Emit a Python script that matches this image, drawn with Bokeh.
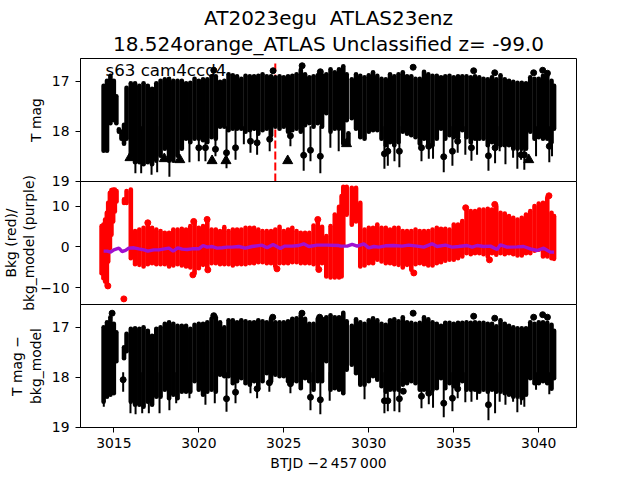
from bokeh.plotting import figure
from bokeh.layouts import column
from bokeh.models import Range1d, Label, FixedTicker, Title
from bokeh.embed import file_html
from bokeh.resources import INLINE

TITLE_LINE_1 = "AT2023egu \u00a0ATLAS23enz"
TITLE_LINE_2 = "18.524orange_ATLAS Unclassified z= -99.0"
SECTOR_LABEL = "s63 cam4ccd4"
X_LABEL = "BTJD \u22122\u2009457\u2009000"
Y1_LABEL = "T mag"
Y2_LABEL_A = "Bkg (red)/"
Y2_LABEL_B = "bkg_model (purple)"
Y3_LABEL_A = "T mag \u2212"
Y3_LABEL_B = "bkg_model"
X_TICKS = [3015, 3020, 3025, 3030, 3035, 3040]
MAG_TICKS = [17, 18, 19]
BKG_TICKS = [-10, 0, 10]
EVENT_TIME = 3024.5

# column times shared by the three panels (days)
T_B = [3015.75, 3016.0, 3016.25, 3016.5, 3016.75, 3017.0, 3017.25, 3017.5, 3017.75, 3018.0,
       3018.25, 3018.5, 3018.75, 3019.0, 3019.25, 3019.5, 3019.75, 3020.0, 3020.25, 3020.5,
       3020.75, 3021.0, 3021.25, 3021.5, 3021.75, 3022.0, 3022.25, 3022.5, 3022.75, 3023.0,
       3023.25, 3023.5, 3023.75, 3024.0, 3024.25, 3024.5, 3024.75, 3025.0, 3025.25, 3025.5,
       3025.75, 3026.0, 3026.25, 3026.5, 3026.75, 3027.0, 3027.25, 3027.5, 3027.75, 3028.0, 3028.25]
T_C = [3029.0, 3029.25, 3029.5, 3029.75, 3030.0, 3030.25, 3030.5, 3030.75, 3031.0, 3031.25,
       3031.5, 3031.75, 3032.0, 3032.25, 3032.5, 3032.75, 3033.0, 3033.25, 3033.5, 3033.75,
       3034.0, 3034.25, 3034.5, 3034.75, 3035.0, 3035.25, 3035.5, 3035.75, 3036.0, 3036.25,
       3036.5, 3036.75, 3037.0, 3037.25, 3037.5, 3037.75, 3038.0, 3038.25, 3038.5, 3038.75,
       3039.0, 3039.25, 3039.5, 3039.75, 3040.0, 3040.25, 3040.5, 3040.75, 3040.9]

# --- panel 1: T mag
M_T_A = [3014.4, 3014.6, 3014.8, 3015.0, 3015.15, 3015.3, 3015.45, 3015.6]
M_TOP_A = [17.09, 16.99, 16.89, 16.99, 17.30, 17.96, 18.01, 17.87]
M_LOW_A = [18.39, 18.39, 17.84, 17.78, 17.84, 18.01, 18.15, 18.25]
M_TOP_B = [17.13, 17.04, 17.04, 17.09, 17.04, 17.09, 17.15, 17.04, 16.99, 16.96,
           16.95, 16.99, 16.99, 16.99, 17.04, 17.03, 16.95, 16.99, 16.96, 16.96,
           16.90, 16.90, 17.01, 16.99, 16.86, 16.88, 16.90, 16.95, 16.89, 16.90,
           16.90, 16.89, 16.86, 16.90, 16.90, 16.92, 16.90, 16.92, 16.90, 16.89,
           16.86, 16.77, 16.86, 16.92, 16.90, 16.88, 16.88, 16.86, 16.76, 16.82, 16.76]
M_LOW_B = [18.15, 18.49, 18.62, 18.62, 18.66, 18.62, 18.66, 18.59, 18.49, 18.35,
           18.59, 18.59, 18.49, 18.35, 18.15, 18.22, 18.15, 18.15, 18.18, 18.22,
           18.12, 18.15, 17.91, 17.91, 17.98, 17.95, 17.95, 17.95, 18.01, 17.98,
           17.95, 18.05, 17.98, 17.95, 18.08, 17.91, 17.95, 17.91, 18.01, 17.98,
           17.95, 18.01, 17.88, 17.84, 17.91, 17.84, 17.91, 17.64, 18.01, 17.95, 17.95]
M_T_M = [3028.5, 3028.7, 3028.8]
M_TOP_M = [16.70, 16.86, 18.04]
M_LOW_M = [18.25, 17.78, 18.25]
M_TOP_C = [16.96, 16.86, 16.89, 16.92, 16.88, 16.82, 16.89, 16.95, 16.96, 16.86,
           16.90, 16.86, 16.82, 16.90, 16.90, 16.95, 16.95, 16.81, 16.86, 16.89,
           16.89, 16.92, 16.90, 16.89, 16.92, 16.90, 16.90, 16.90, 16.92, 16.90,
           16.92, 16.95, 16.96, 16.92, 16.96, 16.88, 16.96, 16.99, 17.01, 17.03,
           17.03, 17.04, 16.92, 16.95, 16.95, 16.89, 16.90, 16.99, 17.09]
M_LOW_C = [17.74, 17.95, 18.12, 18.15, 18.01, 17.98, 17.98, 18.15, 18.28, 18.22,
           18.28, 18.22, 18.01, 18.05, 18.08, 18.12, 18.25, 18.15, 18.28, 18.28,
           18.15, 17.95, 18.15, 18.08, 18.12, 18.12, 17.98, 18.12, 18.22, 18.15,
           18.15, 18.15, 18.28, 18.22, 18.28, 18.28, 18.28, 18.28, 18.35, 18.35,
           18.35, 18.35, 18.01, 18.15, 18.12, 18.15, 18.15, 18.22, 17.95]
M_SPIKE_T = [3016.27, 3016.61, 3017.22, 3017.55, 3018.27, 3019.45, 3020.0, 3020.39, 3020.98, 3021.63,
             3022.16, 3022.65, 3023.04, 3023.43, 3024.17, 3025.39, 3026.17, 3026.57, 3027.15, 3027.74,
             3028.23, 3030.92, 3031.12, 3031.51, 3031.80, 3033.10, 3033.53, 3033.78, 3034.41, 3034.92,
             3035.23, 3035.68, 3036.04, 3036.37, 3037.04, 3037.43, 3037.70, 3038.04, 3038.49, 3038.74,
             3038.96, 3039.15, 3039.84, 3040.62, 3040.78]
M_SPIKE_LOW = [18.84, 18.84, 18.87, 18.82, 18.91, 18.62, 18.60, 18.60, 18.50, 18.74,
               18.57, 18.26, 18.43, 18.47, 18.40, 18.30, 18.79, 18.60, 18.84, 18.33,
               18.40, 18.75, 18.69, 18.60, 18.72, 18.60, 18.55, 18.55, 18.82, 18.69,
               18.43, 18.47, 18.59, 18.47, 18.79, 18.64, 18.40, 18.66, 18.53, 18.75,
               18.57, 18.77, 18.50, 18.62, 18.50]
M_DOT_T = [3020.0, 3020.39, 3020.98, 3021.63, 3022.16, 3023.04, 3023.43, 3024.17, 3025.39, 3026.17,
           3026.57, 3027.15, 3030.92, 3031.12, 3031.80, 3033.10, 3033.53, 3034.41, 3034.92, 3035.23,
           3036.04, 3037.04, 3037.43, 3038.96, 3039.15, 3040.62,
           3032.61, 3036.17, 3037.41, 3039.70, 3040.23, 3040.51, 3020.88, 3024.37, 3026.08, 3027.15]
M_DOT_MAG = [18.33, 18.33, 18.36, 18.43, 18.33, 18.20, 18.23, 18.16, 18.09, 18.48,
             18.38, 18.50, 18.45, 18.40, 18.40, 18.33, 18.30, 18.51, 18.40, 18.20,
             18.33, 18.49, 18.33, 18.47, 18.47, 18.30,
             16.72, 16.79, 16.83, 16.83, 16.78, 16.84, 16.78, 16.79, 16.69, 16.81]
LIMIT_T = [3015.95, 3017.97, 3018.88, 3020.78, 3021.6, 3025.23, 3039.41, 3028.69]
LIMIT_MAG = [18.53, 18.55, 18.57, 18.59, 18.59, 18.59, 18.57, 18.25]

# --- panel 2: background
B_T_A = [3014.28, 3014.39, 3014.49, 3014.59, 3014.67, 3014.77, 3014.86, 3014.96, 3015.06, 3015.16, 3015.6]
B_TOP_A = [5.14, 5.55, 6.79, 8.43, 10.90, 13.37, 14.03, 14.19, 14.19, 13.78, 11.73]
B_LOW_A = [-6.46, -7.69, -8.51, -9.34, -3.58, -0.28, 3.01, 6.30, 8.77, 11.24, 10.83]
B_TOP_B = [13.78, 14.19, 3.91, 4.32, 4.73, 5.80, 4.73, 4.32, 3.91, 3.49,
           3.49, 4.32, 4.32, 4.48, 4.32, 5.14, 6.13, 4.73, 5.14, 6.62,
           4.32, 4.32, 3.91, 4.89, 3.91, 4.32, 4.32, 4.32, 4.73, 4.73,
           4.73, 4.32, 3.91, 3.91, 3.91, 4.32, 4.98, 3.91, 4.32, 4.73,
           3.91, 3.49, 3.49, 3.49, 5.31, 6.62, 4.98, 2.67, 5.14, 8.02, 9.91]
B_LOW_B = [10.83, -2.75, -4.23, -4.40, -4.81, -4.23, -3.99, -4.23, -4.23, -4.23,
           -4.81, -4.56, -4.23, -4.56, -4.81, -5.06, -6.46, -5.22, -4.40, -5.22,
           -3.99, -3.99, -4.23, -4.23, -4.23, -4.56, -4.23, -4.23, -4.23, -3.99,
           -3.99, -3.74, -3.74, -3.99, -3.99, -4.81, -3.99, -3.99, -3.99, -3.74,
           -3.74, -3.99, -3.99, -3.99, -4.23, -5.06, -3.99, -7.28, -7.53, -7.53, -7.53]
B_T_M = [3028.4, 3028.5, 3028.7]
B_TOP_M = [12.55, 14.85, 14.85]
B_LOW_M = [-7.28, 0.54, 7.95]
B_TOP_C = [14.61, 14.61, 10.90, 4.32, 4.73, 4.73, 5.55, 4.73, 4.73, 4.32,
           4.73, 4.73, 3.91, 3.91, 3.91, 4.32, 3.91, 3.91, 3.91, 4.32,
           4.73, 4.48, 4.48, 4.32, 5.55, 5.55, 6.38, 9.26, 8.84, 8.84,
           9.26, 9.26, 9.42, 9.26, 10.08, 8.43, 8.27, 7.61, 7.20, 6.79,
           7.20, 8.02, 8.84, 10.08, 10.74, 10.90, 12.14, 8.43, 7.61]
B_LOW_C = [5.48, 6.30, -4.81, -4.56, -3.99, -3.99, -3.16, -3.58, -3.99, -3.99,
           -4.23, -4.40, -5.06, -4.40, -5.63, -4.23, -3.99, -4.23, -4.56, -4.56,
           -3.99, -3.74, -3.41, -3.16, -3.16, -2.75, -2.34, -1.52, -1.76, -1.52,
           -1.52, -1.76, -2.34, -1.52, -1.93, -1.52, -1.76, -1.52, -1.76, -2.09,
           -2.09, -1.52, -1.52, -0.94, -0.69, -2.34, -2.34, -2.75, -2.92]
B_DOT_T = [3015.59, 3037.1, 3032.65, 3040.6, 3037.41, 3035.7, 3019.65, 3020.53, 3024.6, 3027.06,
           3017.0, 3020.49, 3019.7, 3027.0, 3014.65]
B_DOT_V = [-12.8, -3.17, -6.4, 12.63, 10.5, 9.67, -6.87, -5.64, -5.39, -5.55,
           5.97, 6.8, 6.3, 6.79, -9.6]
MODEL_T = [3014.4, 3014.61, 3014.81, 3015.0, 3015.3, 3015.49, 3015.69, 3015.88, 3016.18, 3016.47,
           3016.77, 3017.0, 3017.35, 3017.65, 3017.98, 3018.24, 3018.49, 3018.76, 3019.02, 3019.31,
           3019.61, 3020.0, 3020.25, 3020.49, 3020.78, 3021.08, 3021.37, 3021.67, 3021.96, 3022.35,
           3022.74, 3023.13, 3023.72, 3024.02, 3024.37, 3024.8, 3025.04, 3025.49, 3025.88, 3026.17,
           3026.47, 3026.96, 3027.55, 3028.23, 3028.34, 3028.73, 3029.02, 3029.32, 3029.71, 3030.0,
           3030.3, 3030.59, 3030.98, 3031.47, 3031.96, 3032.35, 3032.84, 3033.23, 3033.72, 3034.02,
           3034.51, 3034.9, 3035.29, 3035.78, 3036.08, 3036.37, 3036.76, 3037.15, 3037.55, 3037.74,
           3038.14, 3038.72, 3039.11, 3039.51, 3039.9, 3040.29, 3040.68, 3040.9]
MODEL_V = [-1.03, -1.03, -1.27, -0.70, -0.29, -1.11, -0.86, -0.29, -0.20, -0.45,
           -0.70, -1.03, -0.70, -0.70, -0.45, -0.29, -1.03, -0.20, -0.53, -0.62,
           -0.45, -0.45, 0.37, -0.04, 0.12, -0.29, -0.20, -0.04, -0.04, 0.12,
           -0.29, 0.12, 0.45, -0.20, 0.62, -0.37, 0.21, 0.21, 0.37, 0.78,
           0.12, 0.45, 0.45, 0.37, 0.21, 0.21, 0.62, 0.21, 0.78, -0.20,
           0.12, -0.04, 0.29, 0.37, 0.21, 0.45, 0.21, -0.04, 0.78, 0.12,
           0.45, -0.04, 0.12, 0.37, -0.04, 0.37, 0.12, 0.21, -0.62, 0.54,
           -0.04, 0.04, 0.12, -0.45, -0.86, -0.29, -1.27, -1.27]

# --- panel 3: T mag minus model
D_T_A = [3014.4, 3014.6, 3014.8, 3015.0, 3015.15, 3015.6]
D_TOP_A = [17.00, 16.90, 16.80, 16.93, 17.10, 17.40]
D_LOW_A = [18.49, 18.39, 18.35, 18.32, 17.68, 17.62]
D_TOP_B = [17.13, 17.03, 17.02, 17.03, 17.0, 17.07, 17.17, 17.03, 17.0, 16.93,
           16.90, 16.93, 16.97, 16.97, 16.97, 17.03, 16.95, 16.93, 16.93, 16.90,
           16.83, 16.80, 16.90, 17.0, 16.86, 16.86, 16.90, 16.86, 16.88, 16.90,
           16.90, 16.86, 16.88, 16.90, 16.83, 16.90, 16.90, 16.90, 16.88, 16.83,
           16.82, 16.76, 16.83, 16.93, 16.93, 16.83, 16.83, 16.80, 16.76, 16.80, 16.80]
D_LOW_B = [17.48, 18.49, 18.55, 18.55, 18.59, 18.49, 18.55, 18.39, 18.39, 18.25,
           18.42, 18.35, 18.42, 18.29, 18.29, 18.29, 18.08, 18.25, 18.35, 18.29,
           18.25, 18.29, 17.95, 17.98, 17.98, 18.12, 18.08, 18.02, 18.12, 18.15,
           18.08, 18.23, 18.08, 17.92, 18.08, 17.95, 17.98, 17.98, 18.08, 18.08,
           18.08, 18.22, 18.02, 18.08, 18.25, 18.08, 18.08, 17.68, 18.25, 18.22, 18.25]
D_T_M = [3028.5, 3028.7]
D_TOP_M = [16.71, 16.88]
D_LOW_M = [18.32, 17.85]
D_TOP_C = [16.97, 16.84, 16.90, 16.93, 16.86, 16.82, 16.86, 16.93, 16.95, 16.86,
           16.84, 16.88, 16.80, 16.90, 16.91, 16.93, 16.91, 16.80, 16.84, 16.90,
           16.93, 16.97, 16.91, 16.91, 16.93, 16.91, 16.91, 16.90, 16.91, 16.90,
           16.91, 16.91, 16.93, 16.93, 16.98, 16.86, 16.93, 16.97, 17.0, 17.02,
           17.02, 17.02, 16.90, 16.93, 16.90, 16.90, 16.91, 16.95, 17.07]
D_LOW_C = [17.75, 17.92, 18.15, 18.15, 18.08, 17.98, 18.05, 18.18, 18.29, 18.25,
           18.25, 18.25, 18.15, 18.12, 18.08, 18.12, 18.25, 18.25, 18.29, 18.25,
           18.22, 18.02, 18.22, 18.12, 18.18, 18.15, 18.08, 18.25, 18.25, 18.25,
           18.29, 18.25, 18.29, 18.25, 18.29, 18.29, 18.32, 18.35, 18.39, 18.39,
           18.42, 18.35, 18.02, 18.12, 18.12, 18.08, 18.12, 18.23, 18.02]
D_SPIKE_T = [3014.41, 3015.55, 3015.98, 3016.28, 3016.67, 3017.06, 3017.69, 3018.27, 3018.67, 3019.45,
             3020.39, 3020.94, 3021.63, 3022.16, 3023.04, 3023.43, 3024.15, 3025.39, 3026.57, 3027.15,
             3027.7, 3029.75, 3030.92, 3031.12, 3031.51, 3031.80, 3033.10, 3033.53, 3033.78, 3034.41,
             3034.92, 3035.23, 3035.68, 3036.04, 3036.37, 3037.04, 3037.43, 3037.70, 3038.04, 3038.49,
             3038.74, 3038.96, 3039.15, 3039.84, 3040.62]
D_SPIKE_LOW = [18.59, 18.29, 18.72, 18.74, 18.72, 18.72, 18.72, 18.66, 18.52, 18.42,
               18.55, 18.52, 18.69, 18.52, 18.32, 18.42, 18.29, 18.32, 18.66, 18.74,
               18.47, 18.44, 18.72, 18.68, 18.68, 18.70, 18.62, 18.54, 18.61, 18.80,
               18.68, 18.42, 18.50, 18.49, 18.45, 18.86, 18.72, 18.49, 18.55, 18.49,
               18.70, 18.55, 18.59, 18.25, 18.34]
D_DOT_T = [3015.55, 3021.63, 3022.16, 3023.43, 3024.15, 3025.39, 3026.57, 3027.15, 3030.92, 3031.12,
           3031.80, 3032.03, 3033.10, 3033.53, 3034.41, 3034.92, 3035.23, 3037.04,
           3032.61, 3036.17, 3037.41, 3039.70, 3040.23, 3040.51, 3024.35, 3027.11, 3020.88, 3026.07, 3014.9]
D_DOT_MAG = [18.05, 18.43, 18.30, 18.23, 18.11, 18.13, 18.40, 18.45, 18.47, 18.47,
             18.43, 18.28, 18.38, 18.32, 18.52, 18.42, 18.23, 18.55,
             16.72, 16.78, 16.82, 16.80, 16.75, 16.80, 16.80, 16.80, 16.77, 16.72, 16.72]

FONT = "DejaVu Sans"
TICK_PX = "13.9px"
X_RANGE = (3013.04, 3042.22)
Y1_RANGE = (19.005, 16.545)
Y2_RANGE = (-14.18, 16.15)
Y3_RANGE = (19.005, 16.546)


def make_panel(height, y_range, ticks, label, standoff, top=0, bottom=0, margin=0):
    p = figure(width=640, height=height, output_backend="svg", toolbar_location=None, title=None,
               x_range=Range1d(*X_RANGE), y_range=Range1d(*y_range),
               min_border_left=80, min_border_right=64, min_border_top=top, min_border_bottom=bottom,
               margin=(margin, 0, 0, 0),
               background_fill_color="white", border_fill_color=None)
    p.grid.visible = False
    p.outline_line_color = "black"
    p.outline_line_width = 1
    p.outline_line_alpha = 1
    p.xaxis.visible = False
    p.xaxis.ticker = FixedTicker(ticks=X_TICKS)
    p.yaxis.ticker = FixedTicker(ticks=ticks)
    p.yaxis.minor_tick_line_color = None
    p.yaxis.major_tick_in = 0
    p.yaxis.major_tick_out = 5
    p.yaxis.major_label_standoff = 6
    p.yaxis.major_label_text_font = FONT
    p.yaxis.major_label_text_font_size = TICK_PX
    p.yaxis.major_label_text_color = "black"
    p.yaxis.axis_label = label
    p.yaxis.axis_label_standoff = standoff
    p.yaxis.axis_label_text_font = FONT
    p.yaxis.axis_label_text_font_size = TICK_PX
    p.yaxis.axis_label_text_font_style = "normal"
    p.yaxis.axis_label_text_color = "black"
    return p


def columns(p, t, low, top, color, width=4.6):
    p.segment(x0=t, y0=low, x1=t, y1=top, line_color=color, line_width=width, line_cap="round")


def side_title(p, text, standoff=0):
    p.add_layout(Title(text=text, align="center", text_font=FONT, text_font_size=TICK_PX,
                       text_font_style="normal", text_color="black", standoff=standoff), "left")


def top_title(p, text, standoff=0):
    p.add_layout(Title(text=text, align="center", text_font=FONT, text_font_size="20px",
                       text_font_style="normal", text_color="black", standoff=standoff), "above")


# panel 1
p1 = make_panel(189, Y1_RANGE, MAG_TICKS, Y1_LABEL, 5, top=58, bottom=8)
top_title(p1, TITLE_LINE_2, 5)
top_title(p1, TITLE_LINE_1, -4)
p1.segment(x0=[EVENT_TIME], y0=[19.005], x1=[EVENT_TIME], y1=[16.64],
           line_color="red", line_width=2, line_dash="8 3")
columns(p1, M_T_A + T_B + M_T_M + T_C, M_LOW_A + M_LOW_B + M_LOW_M + M_LOW_C,
        M_TOP_A + M_TOP_B + M_TOP_M + M_TOP_C, "black")
p1.segment(x0=M_SPIKE_T, y0=[17.9] * len(M_SPIKE_T), x1=M_SPIKE_T, y1=M_SPIKE_LOW,
           line_color="black", line_width=2)
p1.scatter(M_DOT_T, M_DOT_MAG, marker="circle", size=6, color="black")
p1.scatter(LIMIT_T, LIMIT_MAG, marker="triangle", size=10, color="black")
p1.add_layout(Label(x=3014.51, y=16.79, text=SECTOR_LABEL, text_font=FONT,
                    text_font_size="16.67px", text_color="black", text_baseline="alphabetic"))

# panel 2 (its canvas starts 16 px above the bottom of panel 1's canvas)
p2 = make_panel(139, Y2_RANGE, BKG_TICKS, Y2_LABEL_B, 0, top=8, bottom=8, margin=-16)
p2.yaxis.major_label_overrides = {-10: "\u221210", 0: "0", 10: "10"}
side_title(p2, Y2_LABEL_A)
columns(p2, B_T_A + T_B + B_T_M + T_C, B_LOW_A + B_LOW_B + B_LOW_M + B_LOW_C,
        B_TOP_A + B_TOP_B + B_TOP_M + B_TOP_C, "red")
p2.scatter(B_DOT_T, B_DOT_V, marker="circle", size=6, color="red")
p2.line(MODEL_T, MODEL_V, line_color="#a010d0", line_width=3.4)

# panel 3
p3 = make_panel(176, Y3_RANGE, MAG_TICKS, Y3_LABEL_B, 5, bottom=53, margin=-8)
p3.xaxis.visible = True
p3.xaxis.minor_tick_line_color = None
p3.xaxis.major_tick_in = 0
p3.xaxis.major_tick_out = 5
p3.xaxis.major_label_standoff = 5
p3.xaxis.major_label_text_font = FONT
p3.xaxis.major_label_text_font_size = TICK_PX
p3.xaxis.major_label_text_color = "black"
p3.xaxis.axis_label = X_LABEL
p3.xaxis.axis_label_standoff = 4
p3.xaxis.axis_label_text_font = FONT
p3.xaxis.axis_label_text_font_size = TICK_PX
p3.xaxis.axis_label_text_font_style = "normal"
p3.xaxis.axis_label_text_color = "black"
side_title(p3, Y3_LABEL_A)
columns(p3, D_T_A + T_B + D_T_M + T_C, D_LOW_A + D_LOW_B + D_LOW_M + D_LOW_C,
        D_TOP_A + D_TOP_B + D_TOP_M + D_TOP_C, "black")
p3.segment(x0=D_SPIKE_T, y0=[17.9] * len(D_SPIKE_T), x1=D_SPIKE_T, y1=D_SPIKE_LOW,
           line_color="black", line_width=2)
p3.scatter(D_DOT_T, D_DOT_MAG, marker="circle", size=6, color="black")

page = column(p1, p2, p3, spacing=0)
open("out.html", "w").write(file_html(page, INLINE))
